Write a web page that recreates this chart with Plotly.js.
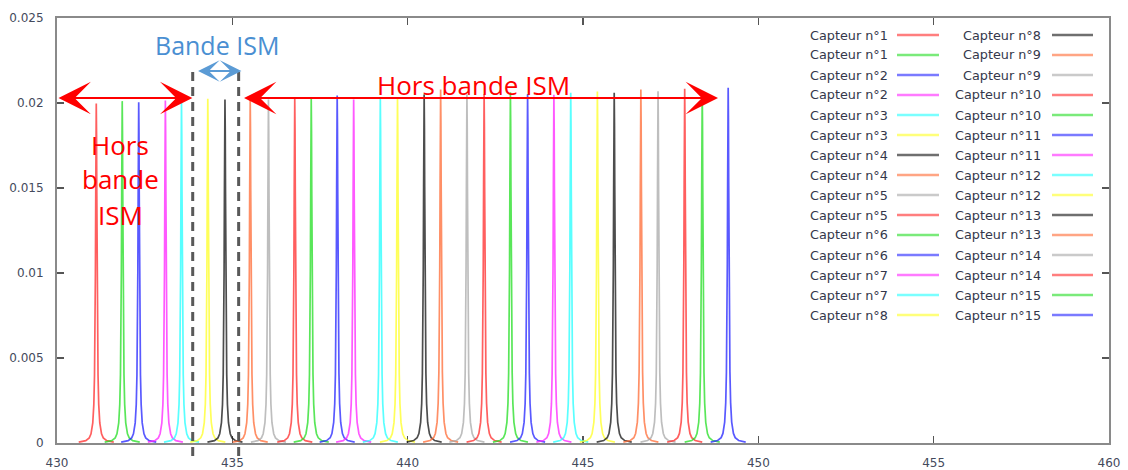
<!DOCTYPE html>
<html><head><meta charset="utf-8">
<script src="https://cdn.plot.ly/plotly-3.0.1.min.js"></script>
<style>html,body{margin:0;padding:0;background:#fff}#chart{width:1128px;height:470px}</style>
</head><body><div id="chart"></div>
<script>
// ---- data ----
const sensorNames = [
  "Capteur n°1","Capteur n°1","Capteur n°2","Capteur n°2","Capteur n°3","Capteur n°3",
  "Capteur n°4","Capteur n°4","Capteur n°5","Capteur n°5","Capteur n°6","Capteur n°6",
  "Capteur n°7","Capteur n°7","Capteur n°8","Capteur n°8","Capteur n°9","Capteur n°9",
  "Capteur n°10","Capteur n°10","Capteur n°11","Capteur n°11","Capteur n°12","Capteur n°12",
  "Capteur n°13","Capteur n°13","Capteur n°14","Capteur n°14","Capteur n°15","Capteur n°15"
];
// resonance frequency of each curve (MHz)
const peakFreqs = [
  431.12, 431.86, 432.33, 433.09, 433.55, 434.30, 434.79, 435.51, 436.03, 436.78,
  437.25, 437.99, 438.46, 439.22, 439.71, 440.47, 440.94, 441.69, 442.18, 442.93,
  443.42, 444.17, 444.65, 445.41, 445.89, 446.65, 447.14, 447.90, 448.40, 449.14
];
// peak amplitude of each curve
const peakHeights = [
  0.01997, 0.02011, 0.02005, 0.02015, 0.02011, 0.02025, 0.02021, 0.02021, 0.02021, 0.02025,
  0.02025, 0.02044, 0.02021, 0.02031, 0.02031, 0.02050, 0.02079, 0.02052, 0.02052, 0.02063,
  0.02052, 0.02048, 0.02060, 0.02068, 0.02060, 0.02079, 0.02069, 0.02084, 0.02068, 0.02089
];
// common resonance profile read from the peaks: offset from centre (MHz) and fraction of peak
const profileOffsets = [-0.5, -0.3, -0.2, -0.15, -0.1, -0.07, -0.05, -0.035, -0.025, -0.015, -0.008, 0,
                        0.008, 0.015, 0.025, 0.035, 0.05, 0.07, 0.1, 0.15, 0.2, 0.3, 0.5];
const profileShape   = [0.0025, 0.007, 0.015, 0.027, 0.059, 0.113, 0.2, 0.338, 0.5, 0.735, 0.907, 1,
                        0.907, 0.735, 0.5, 0.338, 0.2, 0.113, 0.059, 0.027, 0.015, 0.007, 0.0025];
const xTickVals = [430, 435, 440, 445, 450, 455, 460];
const xTickText = ["430", "435", "440", "445", "450", "455", "460"];
const yTickVals = [0, 0.005, 0.01, 0.015, 0.02, 0.025];
const yTickText = ["0", "0.005", "0.01", "0.015", "0.02", "0.025"];
// annotation geometry (data units)
const ismBandEdges = [433.87, 435.18];
const ismArrowSpan = [433.98, 435.26];
const horsLeftSpan = [430.0, 433.86];
const horsRightSpan = [435.29, 448.85];

// ---- styles ----
const palette = ["#ff2a2a", "#22dd22", "#2222ff", "#ff22ff", "#22ffff", "#ffff22", "#111111", "#ff6a33", "#a8a8a8"];
const colorOf = i => palette[i % palette.length];

const W = 1128, H = 470, M = {l: 57, r: 19, t: 18, b: 27};
const pw = W - M.l - M.r, ph = H - M.t - M.b;
const pxX = x => (x - M.l) / pw;
const pxY = y => (H - M.b - y) / ph;

const traces = peakFreqs.map((f, i) => ({
  type: "scatter", mode: "lines", name: sensorNames[i],
  x: profileOffsets.map(o => f + o),
  y: profileShape.map(r => peakHeights[i] * r),
  line: {color: colorOf(i), width: 1.7},
  opacity: 0.75, showlegend: false, hoverinfo: "skip"
}));

const shapes = [];
const annotations = [];

// manual legend: text on the left, line sample on the right, two columns of 15
const legFont = {family: "DejaVu Sans", size: 12.8, color: "#34374a"};
sensorNames.forEach((n, i) => {
  const col = i < 15 ? 0 : 1, row = i % 15;
  const yy = 35 + 20 * row;
  const textRight = col === 0 ? 890 : 1043;
  const lx0 = col === 0 ? 897 : 1052, lx1 = col === 0 ? 939 : 1093;
  annotations.push({xref: "paper", yref: "paper", x: pxX(textRight), y: pxY(yy), text: n,
    showarrow: false, xanchor: "right", yanchor: "middle", font: legFont});
  shapes.push({type: "line", xref: "paper", yref: "paper", x0: pxX(lx0), x1: pxX(lx1), y0: pxY(yy), y1: pxY(yy),
    line: {color: colorOf(i), width: 2.5}, opacity: 0.6});
});

// dashed ISM band limits
ismBandEdges.forEach(e => shapes.push({type: "line", xref: "x", yref: "paper", x0: e, x1: e,
  y0: pxY(72), y1: pxY(457), line: {color: "#595959", width: 3, dash: "9px,6px"}, layer: "above"}));

// arrows
const arrow = (a, b, yv, color, size, head) => ({
  xref: "x", yref: "y", axref: "x", ayref: "y", x: b, y: yv, ax: a, ay: yv, text: "",
  showarrow: true, arrowside: "end+start", arrowhead: head, startarrowhead: head,
  arrowsize: size, startarrowsize: size, arrowwidth: 2, arrowcolor: color, standoff: 0, startstandoff: 0
});
annotations.push(arrow(ismArrowSpan[0], ismArrowSpan[1], 0.02188, "#5b9bd5", 1.8, 3));
annotations.push(arrow(horsLeftSpan[0], horsLeftSpan[1], 0.02029, "#ff0000", 2.7, 3));
annotations.push(arrow(horsRightSpan[0], horsRightSpan[1], 0.02029, "#ff0000", 2.7, 3));

const annFont = (c, s) => ({family: "Open Sans", size: s, color: c});
annotations.push({xref: "paper", yref: "paper", x: pxX(217), y: pxY(45), text: "Bande ISM", showarrow: false,
  xanchor: "center", yanchor: "middle", font: annFont("#4a8fd2", 25)});
annotations.push({xref: "paper", yref: "paper", x: pxX(473), y: pxY(85), text: "Hors bande ISM", showarrow: false,
  xanchor: "center", yanchor: "middle", font: annFont("#ff0000", 26)});
[["Hors", 145], ["bande", 179], ["ISM", 215]].forEach(([t, y]) =>
  annotations.push({xref: "paper", yref: "paper", x: pxX(120), y: pxY(y), text: t, showarrow: false,
    xanchor: "center", yanchor: "middle", font: annFont("#ff0000", 26)}));

const axisCommon = {
  showline: true, linecolor: "#8a8a8a", linewidth: 2, mirror: "ticks",
  ticks: "inside", ticklen: 7, tickwidth: 1.5, tickcolor: "#555555",
  showgrid: false, zeroline: false, layer: "below traces",
  tickfont: {family: "DejaVu Sans", size: 12, color: "#444a5c"}
};

const layout = {
  width: W, height: H, margin: M, paper_bgcolor: "#ffffff", plot_bgcolor: "#ffffff",
  showlegend: false,
  xaxis: Object.assign({}, axisCommon, {range: [430, 460], tickvals: xTickVals, ticktext: xTickText, ticklabelstandoff: 8}),
  yaxis: Object.assign({}, axisCommon, {range: [0, 0.025], tickvals: yTickVals, ticktext: yTickText, ticklabelstandoff: 9}),
  shapes: shapes, annotations: annotations
};

Plotly.newPlot("chart", traces, layout, {displayModeBar: false, staticPlot: true});
</script></body></html>
